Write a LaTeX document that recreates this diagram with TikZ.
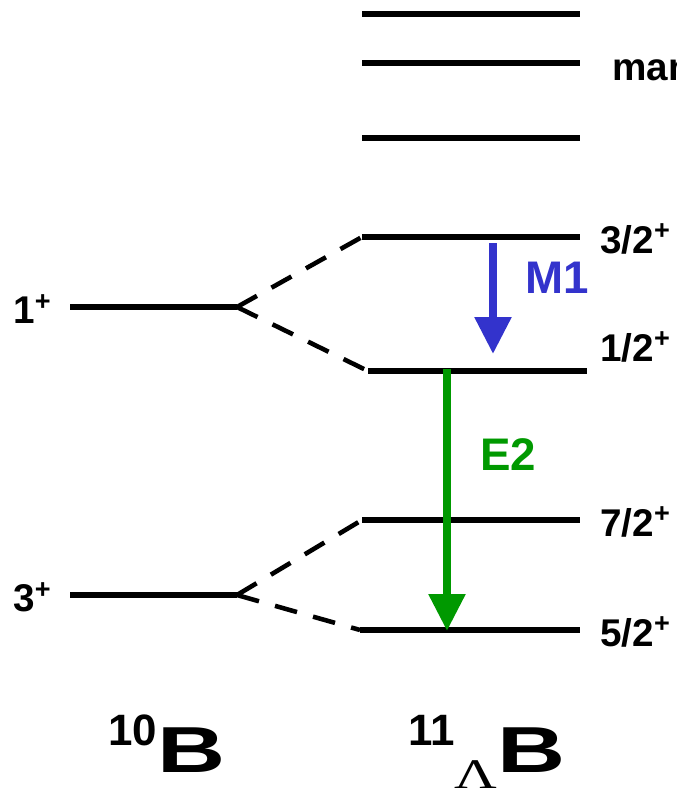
\documentclass[tikz,border=0pt]{standalone}
\usepackage{fontspec}
\setmainfont{Liberation Sans}
\newfontfamily\greekfont{Liberation Serif}
\usetikzlibrary{arrows.meta}

\begin{document}
\begin{tikzpicture}[x=0.02cm,y=-0.02cm]
\tikzset{>={Triangle[width=20pt,length=21pt]}}
\tikzstyle{level} =[line width=3.8pt]
\tikzstyle{split} =[line width=2.6pt, dash pattern=on 13pt off 9.5pt]
\tikzstyle{spin} =[anchor=west, inner sep=0pt, font=\bfseries\fontsize{22}{22}\selectfont]
\tikzstyle{trans} =[line width=4.5pt, ->]
\tikzstyle{mult} =[inner sep=0pt, font=\bfseries\fontsize{26}{26}\selectfont]

\useasboundingbox (0,0) rectangle (677,796);

% 10B levels
\coordinate (o1a) at (70,307);
\coordinate (o1b) at (237,307);
\coordinate (o3a) at (70,595);
\coordinate (o3b) at (237,595);
\draw[level] (o1a) -- (o1b);
\draw[level] (o3a) -- (o3b);
\node[spin](s1) at (13,309){1\textsuperscript{+}};
\node[spin](s3) at (13,597){3\textsuperscript{+}};

% 11LB levels
\coordinate (h32a) at (362,237);
\coordinate (h32b) at (580,237);
\coordinate (h12a) at (368,371);
\coordinate (h12b) at (587,371);
\coordinate (h72a) at (362,520);
\coordinate (h72b) at (580,520);
\coordinate (h52a) at (360,630);
\coordinate (h52b) at (580,630);
\draw[level] (h32a) -- (h32b);
\draw[level] (h12a) -- (h12b);
\draw[level] (h72a) -- (h72b);
\draw[level] (h52a) -- (h52b);
\node[spin](s32) at (600,239){3/2\textsuperscript{+}};
\node[spin](s12) at (600,347){1/2\textsuperscript{+}};
\node[spin](s72) at (600,522){7/2\textsuperscript{+}};
\node[spin](s52) at (600,632){5/2\textsuperscript{+}};

% higher states
\foreach \y/\n in {14/u1, 63/u2, 138/u3}{
  \coordinate (\n a) at (362,\y);
  \coordinate (\n b) at (580,\y);
  \draw[level] (\n a) -- (\n b);
}
\node[spin](many) at (612,74){many};

% splitting
\draw[split] (o1b) -- (h32a);
\draw[split] (o1b) -- (h12a);
\draw[split] (o3b) -- (h72a);
\draw[split] (o3b) -- (h52a);

% gamma transitions
\coordinate (m1a) at (493,243);
\coordinate (m1b) at (493,354);
\coordinate (e2a) at (447,369);
\coordinate (e2b) at (447,631);
\draw[trans, color={rgb,255:red,51;green,51;blue,204}] (m1a) -- (m1b);
\draw[trans, color={rgb,255:red,0;green,153;blue,0}] (e2a) -- (e2b);
\node[mult, text={rgb,255:red,51;green,51;blue,204}](m1) at (557,278){M1};
\node[mult, text={rgb,255:red,0;green,153;blue,0}](e2) at (508,455){E2};

% nuclei
\node[inner sep=0pt, anchor=base west](n10) at (108,772){\bfseries\raisebox{0.54cm}{\fontsize{25}{25}\selectfont 10}\fontsize{37}{37}\selectfont\scalebox{1.45}[1]{B}};
\node[inner sep=0pt, anchor=base west](n11) at (408,772){\bfseries\raisebox{0.54cm}{\fontsize{25}{25}\selectfont 11}\raisebox{-0.32cm}{\greekfont\mdseries\fontsize{24}{24}\selectfont\scalebox{1.4}[1]{Λ}}\fontsize{37}{37}\selectfont\scalebox{1.45}[1]{B}};
\end{tikzpicture}
\end{document}
